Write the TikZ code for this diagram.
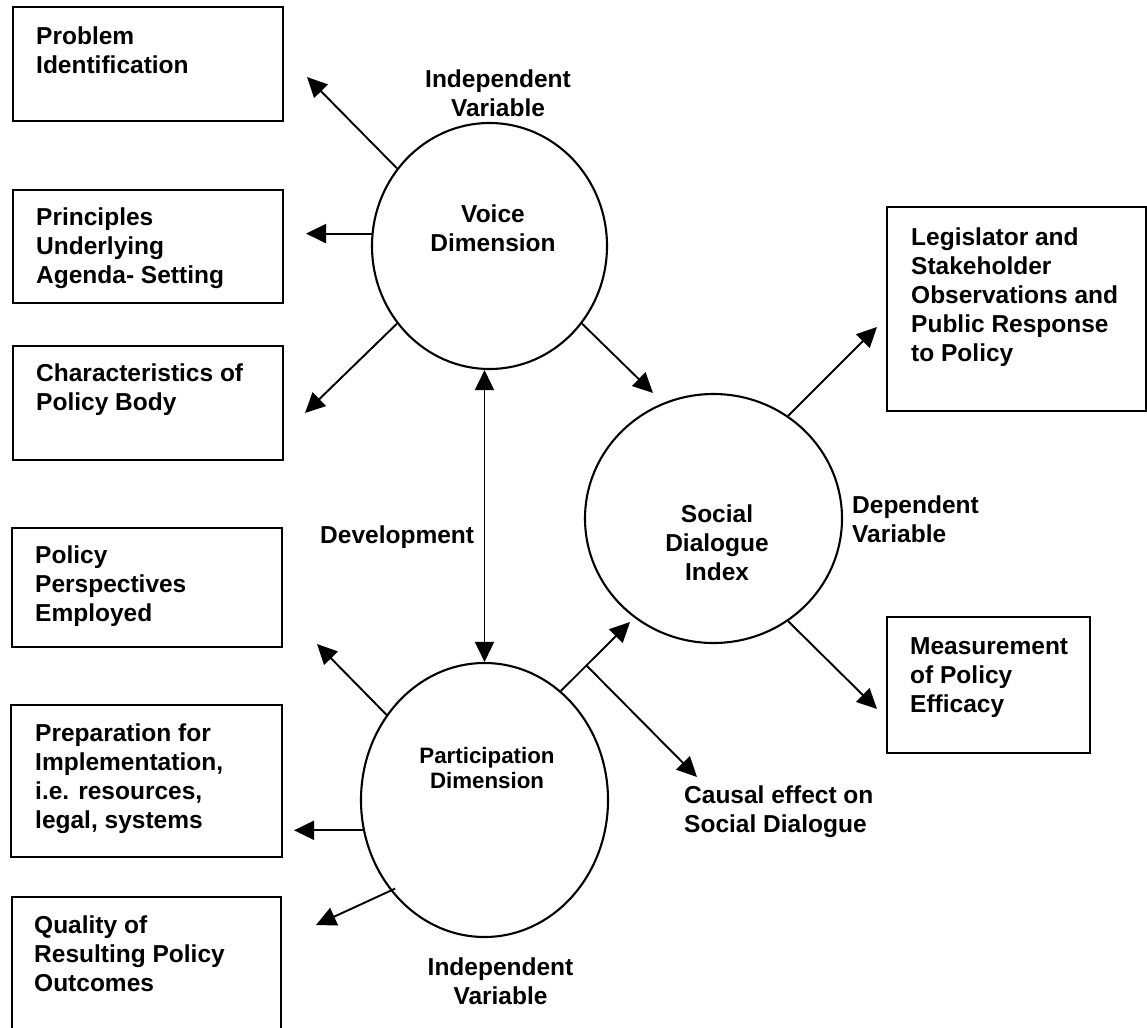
\documentclass[tikz,border=0pt]{standalone}
\usepackage{fontspec}
\setmainfont{Liberation Sans}
\usetikzlibrary{arrows.meta,shapes.geometric}
\begin{document}
\begin{tikzpicture}[x=1pt,y=-1pt,
  box/.style={draw,line width=2.3pt,rectangle,inner sep=0pt},
  blob/.style={draw,line width=2.1pt,ellipse,inner sep=0pt},
  lbl/.style={font=\fontsize{24.5}{29}\selectfont\bfseries,inner sep=0pt,yshift=20.3pt},
  lleft/.style={lbl,anchor=north west,align=left},
  lmid/.style={lbl,anchor=north,align=center},
  plbl/.style={font=\fontsize{22.3}{25.5}\selectfont\bfseries,inner sep=0pt,yshift=17.85pt,anchor=north,align=center},
  tip/.tip={Triangle[length=20pt,width=19pt]},
  arr/.style={line width=1.9pt,-tip},
  dbl/.style={line width=1.7pt,tip-tip},
]
\path[use as bounding box] (0,0) rectangle (1147,1027);
\fill[white] (0,0) rectangle (1147,1027);
\clip (0,0) rectangle (1147,1027);

% left column of boxes
\node[box,minimum width=270pt,minimum height=114pt] (b1) at (148,64) {};
\node[box,minimum width=270pt,minimum height=113pt] (b2) at (148,246.5) {};
\node[box,minimum width=270pt,minimum height=114pt] (b3) at (148,403) {};
\node[box,minimum width=270pt,minimum height=119pt] (b4) at (147,587.5) {};
\node[box,minimum width=271pt,minimum height=152pt] (b5) at (146.5,781) {};
\node[box,minimum width=269pt,minimum height=160pt] (b6) at (146.5,977) {};
% right column of boxes
\node[box,minimum width=259pt,minimum height=204pt] (b7) at (1016.5,309) {};
\node[box,minimum width=203pt,minimum height=136pt] (b8) at (988.5,685) {};

\node[lleft] (t1) at (36,44) {\strut Problem\\Identification};
\node[lleft] (t2) at (36,225) {\strut Principles\\Underlying\\Agenda- Setting};
\node[lleft] (t3) at (36,381) {\strut Characteristics of\\Policy Body};
\node[lleft] (t4) at (35,563) {\strut Policy\\Perspectives\\Employed};
\node[lleft] (t5) at (35,741) {\strut Preparation for\\Implementation,\\i.e. resources,\\legal, systems};
\node[lleft] (t6) at (34,933) {\strut Quality of\\Resulting Policy\\Outcomes};
\node[lleft] (t7) at (911,245) {\strut Legislator and\\Stakeholder\\Observations and\\Public Response\\to Policy};
\node[lleft] (t8) at (910,654) {\strut Measurement\\of Policy\\Efficacy};

% the three dimensions
\node[blob,minimum width=235pt,minimum height=246pt] (voice) at (489.5,246) {};
\node[blob,minimum width=247pt,minimum height=274pt] (part) at (484.5,800) {};
\node[blob,minimum width=257pt,minimum height=249pt] (social) at (713.5,518.5) {};

\node[lmid] (voicet) at (493,222) {\strut Voice\\Dimension};
\node[plbl] (partt) at (487,763) {\strut Participation\\Dimension};
\node[lmid] (socialt) at (717,522) {\strut Social\\Dialogue\\Index};

\node[lmid] (indep1) at (498,87) {\strut Independent\\Variable};
\node[lmid] (indep2) at (500.5,975) {\strut Independent\\Variable};
\node[lleft] (dep) at (852,513) {\strut Dependent\\Variable};
\node[lleft] (devel) at (320,543) {\strut Development};
\node[lleft] (causal) at (684,803) {\strut Causal effect on\\Social Dialogue};

% free arrow ends
\coordinate (e1) at (307,77);
\coordinate (e2) at (306,0);
\coordinate (e3) at (305,413);
\coordinate (e4) at (653,393);
\coordinate (e5) at (317,644);
\coordinate (e6) at (294,0);
\coordinate (e7) at (316,925);
\coordinate (e8) at (630,622);
\coordinate (e9) at (697,777);
\coordinate (e10) at (877,327);
\coordinate (e11) at (877,709);

\draw[arr] (voice.140) -- (e1);
\draw[arr] (voice.174) -- (voice.174 -| e2);
\draw[arr] (voice.220) -- (e3);
\draw[arr] (voice.320) -- (e4);

\draw[arr] (part.139) -- (e5);
\draw[arr] (part.194) -- (part.194 -| e6);
\draw[arr,shorten <=-5pt] (part.224) -- (e7);
\draw[arr] (part.55) -- coordinate[pos=0.37] (br) (e8);
\draw[arr] (br) -- (e9);

\draw[arr] (social.54) -- (e10);
\draw[arr] (social.306) -- (e11);

\draw[dbl] (voice.south -| part.north) -- (part.north);
\end{tikzpicture}
\end{document}
